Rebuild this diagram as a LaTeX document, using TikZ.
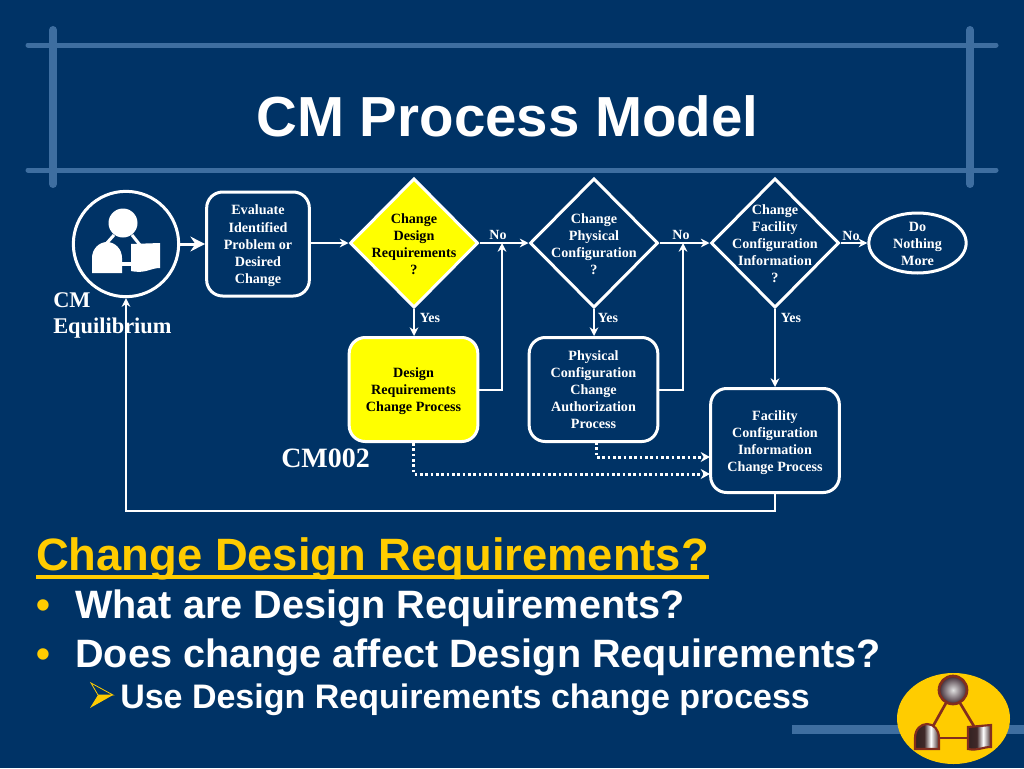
\documentclass[tikz,border=0pt]{standalone}
\usepackage{fontspec}
\setmainfont{Liberation Serif}
\setsansfont{Liberation Sans}
\usetikzlibrary{arrows.meta,shapes.geometric}
\definecolor{slideblue}{RGB}{0,51,102}
\definecolor{frameblue}{RGB}{62,110,160}
\definecolor{boxyellow}{RGB}{255,255,0}
\definecolor{logogold}{RGB}{255,204,0}
\definecolor{logobrown}{RGB}{130,45,30}
\definecolor{balldark}{RGB}{62,42,52}
\pgfdeclarehorizontalshading{logoshade}{100bp}{rgb(0bp)=(0.2,0.13,0.13); rgb(25bp)=(0.2,0.13,0.13); rgb(44bp)=(0.25,0.16,0.16); rgb(58bp)=(1,1,1); rgb(75bp)=(0.25,0.16,0.16); rgb(100bp)=(0.25,0.16,0.16)}
\newcommand{\difont}{\fontsize{10.6}{12.8}\selectfont\bfseries}
\newcommand{\bodyfont}{\fontsize{29.7}{34}\selectfont\sffamily\bfseries}
\newcommand{\lowstrut}{\rule{0pt}{10pt}}
\tikzset{
  framer/.style={draw=frameblue, line cap=round},
  stepbox/.style={draw=white, line width=2.25pt, rounded corners=12pt, fill=slideblue, minimum width=77pt, minimum height=78pt, inner sep=0pt, align=center, font=\difont, text=white},
  decision/.style={draw=white, line width=2.25pt, diamond, minimum width=96pt, minimum height=97pt, inner sep=0pt, fill=slideblue},
  difftext/.style={align=center, inner sep=0pt, font=\difont, text=white},
  flowlabel/.style={inner sep=0pt, font=\fontsize{10.5}{12}\selectfont\bfseries, text=white},
  flow/.style={draw=white, line width=1.5pt, -{Stealth[length=6.5pt,width=6.5pt]}},
  dotrun/.style={draw=white, line width=2.25pt, dash pattern=on 2pt off 2pt, -{Stealth[length=7pt,width=7.5pt]}},
  bigtext/.style={anchor=base west, inner sep=0pt, text=white, font=\bodyfont},
  sidelabel/.style={anchor=base west, inner sep=0pt, text=white, font=\fontsize{16.8}{19}\selectfont\bfseries},
  logoline/.style={logobrown, line width=2pt},
  logopart/.style={shading=logoshade, draw=logobrown, line width=1.6pt},
}
\begin{document}
\begin{tikzpicture}[x=0.75pt,y=0.75pt,yscale=-1,xscale=1]
\useasboundingbox (0,0) rectangle (1024,768);
\fill [slideblue] (0,0) rectangle (1024,768);

%Frame lines
\draw [framer, line width=3.75pt] (28,45) -- (996,45);
\draw [framer, line width=3.75pt] (28,170) -- (996,170);
\draw [framer, line width=6pt] (53,30) -- (53,184);
\draw [framer, line width=6pt] (970,30) -- (970,184);

% Text Node
\node [anchor=base, inner sep=0pt, text=white, font=\fontsize{42.35}{48}\selectfont\sffamily\bfseries] (title) at (507.5,136) {CM Process Model};

%Flow shapes
\node [draw=white, line width=2.25pt, circle, minimum size=79pt, inner sep=0pt, fill=slideblue] (equil) at (126,244) {};
\node [stepbox] (evaluate) at (258,244) {\lowstrut Evaluate\\Identified\\Problem or\\Desired\\Change};
\node [decision, fill=boxyellow] (dreq) at (414,243) {};
\node [difftext, text=black] (dreqtext) at (414,244.5) {Change\\Design\\Requirements\\?};
\node [decision] (dphys) at (594,243) {};
\node [difftext] (dphystext) at (594,244.5) {Change\\Physical\\Configuration\\?};
\node [decision] (dfac) at (775,243) {};
\node [difftext] (dfactext) at (775,243.5) {Change\\Facility\\Configuration\\Information\\?};
\node [draw=white, line width=2.25pt, ellipse, minimum width=73pt, minimum height=45pt, inner sep=0pt] (nochange) at (917.5,243) {};
\node [difftext] (nochangetext) at (917.5,244) {Do\\Nothing\\More};
\node [stepbox, fill=boxyellow, text=black, minimum width=96.5pt] (reqproc) at (413.5,389.5) {\lowstrut Design\\Requirements\\Change Process};
\node [stepbox, minimum width=96.5pt] (physproc) at (593.5,389.5) {Physical\\Configuration\\Change\\Authorization\\Process};
\node [stepbox, minimum width=96.5pt] (facproc) at (775,440.5) {\lowstrut Facility\\Configuration\\Information\\Change Process};

%Joins and corners
\coordinate (joinone) at (502,243);
\coordinate (jointwo) at (683,243);
\coordinate (bottomrun) at (775,511);
\coordinate (physdot) at (596,442);
\coordinate (physin) at (710,457);
\coordinate (reqin) at (710,474);
\coordinate (dreqin) at (350,243);

%Connectors
\draw [draw=white, line width=2.25pt, -{Stealth[length=11pt,width=11pt]}] (equil) -- (evaluate);
\draw [flow] (evaluate.east |- dreqin) -- (dreq);
\draw [flow] (dreq) -- (dphys);
\draw [flow] (dphys) -- (dfac);
\draw [flow] (dfac) -- (nochange);
\draw [flow] (dreq) -- (dreq |- reqproc.north);
\draw [flow] (dphys) -- (dphys |- physproc.north);
\draw [flow] (dfac) -- (facproc);
\draw [flow] (reqproc.east) -| (joinone);
\draw [flow] (physproc.east) -| (jointwo);
\draw [flow] (facproc.south) -- (bottomrun) -| (equil.south);
\draw [dotrun] (physdot) |- (physin);
\draw [dotrun] (reqproc.south) |- (reqin);

%Person and document icon
\fill [white] (123,223) circle (14.5);
\draw [white, line width=2.25pt] (114,235) -- (106,244);
\draw [white, line width=2.25pt] (132,235) -- (140,245);
\fill [white] (92,273) -- (92,258) .. controls (92,249) and (99,242) .. (107,242) .. controls (115,242) and (122,249) .. (122,258) -- (122,273) -- cycle;
\fill [white] (122,262) rectangle (131,266);
\fill [white] (131,244) -- (160,243) -- (160,268) .. controls (150,268) and (146,274) .. (131,271) -- cycle;

% Text Node
\node [flowlabel] (noone) at (498,234.5) {No};
\node [flowlabel] (notwo) at (681,234.5) {No};
\node [flowlabel] (nothree) at (851,235.5) {No};
\node [flowlabel] (yesone) at (430,318) {Yes};
\node [flowlabel] (yestwo) at (608,318) {Yes};
\node [flowlabel] (yesthree) at (791,318) {Yes};
\node [sidelabel] (cmlabel) at (53,307) {CM};
\node [sidelabel] (equilabel) at (53,333) {Equilibrium};
\node [sidelabel, font=\fontsize{21}{25}\selectfont\bfseries] (cmcode) at (281,467) {CM002};

% Text Node
\node [bigtext, text=logogold, font=\fontsize{34}{40}\selectfont\sffamily\bfseries] (headline) at (36,570) {Change Design Requirements?};
\draw [logogold, line width=3pt] ([yshift=5.25pt]headline.base west) -- ([yshift=5.25pt]headline.base east);
\node [bigtext, text=logogold] (bulletone) at (36,618) {•};
\node [bigtext] (whatare) at (75,618) {What are Design Requirements?};
\node [bigtext, text=logogold] (bullettwo) at (36,667) {•};
\node [bigtext] (doeschange) at (75,667) {Does change affect Design Requirements?};
\node [bigtext, font=\fontsize{25.5}{30}\selectfont\sffamily\bfseries] (useproc) at (120,708) {Use Design Requirements change process};

%Sub-bullet arrow
\draw [logogold, line width=0.6pt, line join=miter] (91,683) -- (113,695) -- (98,695) -- cycle;
\fill [logogold] (90,708) -- (113,695) -- (98,695) -- cycle;

%Logo with strip
\fill [frameblue] (792,725) rectangle (1024,734);
\fill [logogold] (953.5,718.5) ellipse (56.5 and 45.5);
\draw [logoline] (946,703) -- (932,728);
\draw [logoline] (960,703) -- (975,728);
\draw [logoline] (938,738) -- (968,738);
\shade [inner color=white!88!black, outer color=balldark, draw=logobrown, line width=2pt] (953,690) circle (14);
\path [logopart] (915,749) -- (915,738) .. controls (915,729) and (921,724) .. (927,724) .. controls (934,724) and (939,730) .. (939,738) -- (939,749) -- cycle;
\path [logopart] (968,727) -- (991,725) -- (991,747) .. controls (982,747) and (978,751) .. (968,749) -- cycle;
\end{tikzpicture}
\end{document}
